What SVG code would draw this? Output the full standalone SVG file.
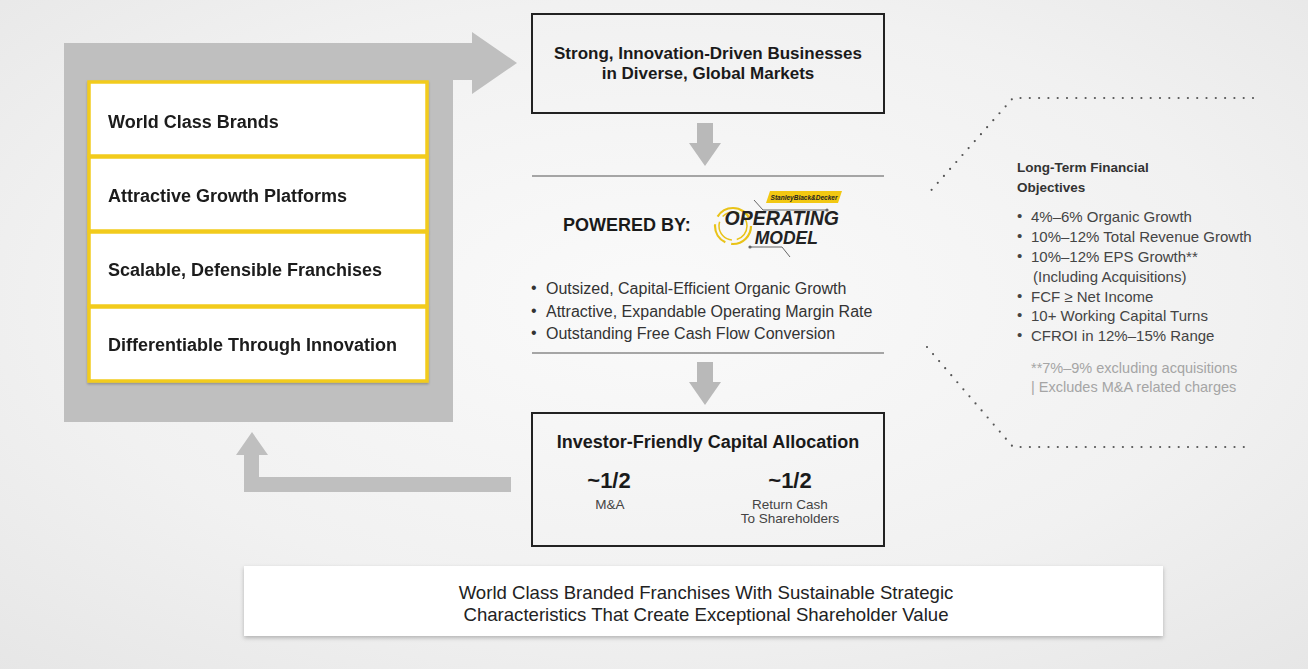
<svg xmlns="http://www.w3.org/2000/svg" width="1308" height="669" viewBox="0 0 1308 669">
<defs>
<radialGradient id="bg" cx="0.5" cy="0.45" r="0.75">
<stop offset="0" stop-color="#fafafa"/>
<stop offset="0.6" stop-color="#f1f1f1"/>
<stop offset="1" stop-color="#e6e6e6"/>
</radialGradient>
<filter id="sh" x="-5%" y="-20%" width="110%" height="150%">
<feDropShadow dx="0" dy="2" stdDeviation="2" flood-color="#000" flood-opacity="0.25"/>
</filter>
<filter id="ysh" x="-5%" y="-10%" width="110%" height="130%">
<feDropShadow dx="0" dy="1.5" stdDeviation="1.2" flood-color="#000" flood-opacity="0.25"/>
</filter>
</defs>
<style>
text{font-family:"Liberation Sans",Arial,sans-serif;}
.gray{fill:#bfbfbf;}
.arr{fill:#b9b9b9;}
.ybox{fill:#ffffff;stroke:#f2cb1d;stroke-width:3.5;}
.lbl{font-size:18px;font-weight:bold;fill:#1a1a1a;}
.hbox{fill:none;stroke:#222;stroke-width:2;}
.rule{stroke:#8a8a8a;stroke-width:1.6;}
.bul{font-size:16px;fill:#333;}
.rt{font-size:15px;fill:#444;}
.fn{font-size:14.5px;fill:#a5a5a5;}
.dots{fill:none;stroke:#555;stroke-width:2.2;stroke-linecap:round;stroke-dasharray:0 9.3;}
</style>
<rect width="1308" height="669" fill="url(#bg)"/>

<g id="connectors">
<path id="loop-out" class="gray" d="M64,43 H472 V32 L517,63 L472,94 V80 H453 V422 H64 Z"/>
<path id="loop-back" class="gray" d="M511,477 V492 H244 V455 H236 L252,432 L268,455 H259 V477 Z"/>
<path id="down1" class="arr" d="M697,123 H713 V143 H721 L705,166 L689,143 H697 Z"/>
<path id="down2" class="arr" d="M697,362 H713 V382 H721 L705,405 L689,382 H697 Z"/>
<polyline class="dots" points="1253,98 1013,98 927,195"/>
<polyline class="dots" points="927,347 1013,447 1253,447"/>
</g>

<g id="pillars" filter="url(#ysh)">
<g id="pillar1"><rect class="ybox" x="89" y="82" width="338" height="74"/><text class="lbl" x="108" y="128">World Class Brands</text></g>
<g id="pillar2"><rect class="ybox" x="89" y="157" width="338" height="74"/><text class="lbl" x="108" y="202">Attractive Growth Platforms</text></g>
<g id="pillar3"><rect class="ybox" x="89" y="232" width="338" height="74"/><text class="lbl" x="108" y="276">Scalable, Defensible Franchises</text></g>
<g id="pillar4"><rect class="ybox" x="89" y="307" width="338" height="74"/><text class="lbl" x="108" y="351">Differentiable Through Innovation</text></g>
</g>

<g id="businesses">
<rect class="hbox" x="532" y="14" width="352" height="99"/>
<text x="708" y="59" text-anchor="middle" font-size="17" font-weight="bold" fill="#1a1a1a">Strong, Innovation-Driven Businesses</text>
<text x="708" y="79" text-anchor="middle" font-size="17" font-weight="bold" fill="#1a1a1a">in Diverse, Global Markets</text>
</g>

<g id="operating-model">
<line class="rule" x1="532" y1="176" x2="884" y2="176"/>
<line class="rule" x1="532" y1="353" x2="884" y2="353"/>
<text x="563" y="231" font-size="18" font-weight="bold" fill="#1a1a1a">POWERED BY:</text>
<g id="logo">
<circle cx="733" cy="226" r="18" fill="none" stroke="#e9c318" stroke-width="2.2" stroke-dasharray="30 6 22 8 40 7"/>
<circle cx="733" cy="226" r="14" fill="none" stroke="#e9c318" stroke-width="1.5" stroke-dasharray="18 5 25 6"/>
<polyline points="754,200 763,210 827,210" fill="none" stroke="#666" stroke-width="1"/>
<circle cx="827" cy="210" r="1.6" fill="#666"/>
<polyline points="750,247 782,247 790,257" fill="none" stroke="#666" stroke-width="1"/>
<circle cx="750" cy="247" r="1.6" fill="#666"/>
<polygon points="770,191 842,191 838,203 766,203" fill="#f2c812"/>
<text x="804" y="200" text-anchor="middle" font-size="6.5" font-weight="bold" font-style="italic" fill="#222">StanleyBlack&amp;Decker</text>
<text x="839" y="225" text-anchor="end" font-size="19.5" font-weight="bold" font-style="italic" fill="#222">OPERATING</text>
<text x="818" y="244" text-anchor="end" font-size="17.5" font-weight="bold" font-style="italic" fill="#222">MODEL</text>
</g>
<text class="bul" x="531" y="293" font-size="11">•</text>
<text class="bul" x="546" y="294">Outsized, Capital-Efficient Organic Growth</text>
<text class="bul" x="531" y="316" font-size="11">•</text>
<text class="bul" x="546" y="317">Attractive, Expandable Operating Margin Rate</text>
<text class="bul" x="531" y="338" font-size="11">•</text>
<text class="bul" x="546" y="339">Outstanding Free Cash Flow Conversion</text>
</g>

<g id="capital-allocation">
<rect class="hbox" x="532" y="413" width="352" height="133"/>
<text x="708" y="448" text-anchor="middle" font-size="18" font-weight="bold" fill="#1a1a1a">Investor-Friendly Capital Allocation</text>
<text x="609" y="488" text-anchor="middle" font-size="22" font-weight="bold" fill="#1a1a1a">~1/2</text>
<text x="790" y="488" text-anchor="middle" font-size="22" font-weight="bold" fill="#1a1a1a">~1/2</text>
<text x="610" y="509" text-anchor="middle" font-size="13.5" fill="#444">M&amp;A</text>
<text x="790" y="509" text-anchor="middle" font-size="13.5" fill="#444">Return Cash</text>
<text x="790" y="523" text-anchor="middle" font-size="13.5" fill="#444">To Shareholders</text>
</g>

<g id="financial-objectives">
<text x="1017" y="171.5" font-size="13.5" font-weight="bold" fill="#333">Long-Term Financial</text>
<text x="1017" y="191.5" font-size="13.5" font-weight="bold" fill="#333">Objectives</text>
<text class="rt" x="1017" y="221" font-size="10">•</text><text class="rt" x="1031" y="222">4%–6% Organic Growth</text>
<text class="rt" x="1017" y="241" font-size="10">•</text><text class="rt" x="1031" y="242">10%–12% Total Revenue Growth</text>
<text class="rt" x="1017" y="261" font-size="10">•</text><text class="rt" x="1031" y="262">10%–12% EPS Growth**</text>
<text class="rt" x="1033" y="282">(Including Acquisitions)</text>
<text class="rt" x="1017" y="301" font-size="10">•</text><text class="rt" x="1031" y="302">FCF ≥ Net Income</text>
<text class="rt" x="1017" y="320" font-size="10">•</text><text class="rt" x="1031" y="321">10+ Working Capital Turns</text>
<text class="rt" x="1017" y="340" font-size="10">•</text><text class="rt" x="1031" y="341">CFROI in 12%–15% Range</text>
<text class="fn" x="1031" y="373">**7%–9% excluding acquisitions</text>
<text class="fn" x="1031" y="392">| Excludes M&amp;A related charges</text>
</g>

<g id="summary">
<rect x="244" y="566" width="919" height="70" fill="#fff" filter="url(#sh)"/>
<text x="706" y="598.5" text-anchor="middle" font-size="18.6" fill="#222">World Class Branded Franchises With Sustainable Strategic</text>
<text x="706" y="620.5" text-anchor="middle" font-size="18.6" fill="#222">Characteristics That Create Exceptional Shareholder Value</text>
</g>
</svg>
